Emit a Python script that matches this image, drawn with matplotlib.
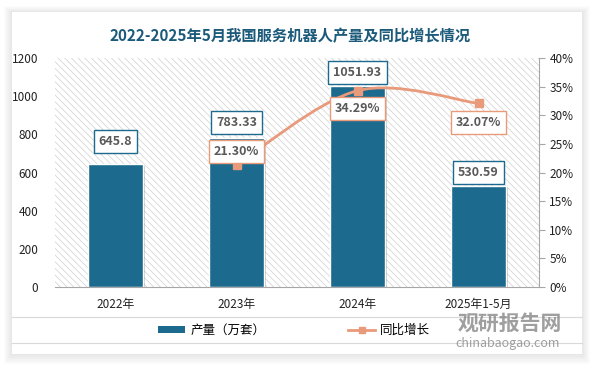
import matplotlib
matplotlib.use("Agg")
import matplotlib.pyplot as plt
from matplotlib.patches import Rectangle, PathPatch, Patch
from matplotlib.path import Path
from matplotlib.lines import Line2D
import matplotlib.patheffects as pe
import numpy as np

plt.rcParams['font.family'] = ['Noto Sans CJK SC', 'DejaVu Sans']
plt.rcParams['hatch.linewidth'] = 0.5
plt.rcParams['hatch.color'] = '#CFCFCF'

categories = ["2022年", "2023年", "2024年", "2025年1-5月"]
output_vals = [645.8, 783.33, 1051.93, 530.59]
growth_idx = [1, 2, 3]
growth_vals = [21.30, 34.29, 32.07]
bar_labels = ["645.8", "783.33", "1051.93", "530.59"]
growth_labels = ["21.30%", "34.29%", "32.07%"]
title = "2022-2025年5月我国服务机器人产量及同比增长情况"

bar_color = "#1C6A8E"
line_color = "#E89A7B"
text_grey = "#595959"

fig = plt.figure(figsize=(5.94, 3.66), dpi=100)
fig.patch.set_facecolor("white")

# soft card shadow + card
L, B, W, H = 12/594, 12/366, 570/594, 342/366
for k in range(1, 9):
    dx = k / 594
    dy = k / 366
    fig.patches.append(Rectangle((L - dx, B - dy * 1.3), W + 2 * dx, H + 2 * dy,
                                 transform=fig.transFigure, facecolor="black", alpha=0.010,
                                 edgecolor="none", zorder=0))
fig.patches.append(Rectangle((L, B), W, H, transform=fig.transFigure,
                             facecolor="white", edgecolor="none", zorder=1))

ax = fig.add_axes([55/594, (366-287)/366, 484/594, 229/366])
ax.set_zorder(2)
ax.patch.set_alpha(0)
x = np.arange(len(categories))
ax.set_xlim(-0.5, len(categories) - 0.5)
ax.set_ylim(0, 1200)

# hatched background
bg = Rectangle((0, 0), 1, 1, transform=ax.transAxes, facecolor="white",
               edgecolor="#CFCFCF", hatch="\\\\\\\\\\", linewidth=0, zorder=0)
ax.add_patch(bg)

bars = ax.bar(x, output_vals, width=0.45, color=bar_color, edgecolor="white",
              linewidth=1.0, zorder=2)
for b in bars:
    b.set_path_effects([pe.SimplePatchShadow(offset=(1.5, -1.5), shadow_rgbFace="black", alpha=0.2),
                        pe.Normal()])

ax.set_yticks(np.arange(0, 1201, 200))
ax.set_xticks(x)
ax.set_xticklabels(categories, fontsize=8.5, color="#222222")
ax.tick_params(axis='y', length=0, labelsize=8.5, labelcolor="#222222", pad=12)
ax.tick_params(axis='x', length=0, pad=8)
for s in ["top", "right", "left"]:
    ax.spines[s].set_visible(False)
ax.spines["bottom"].set_color("#A6A6A6")

ax2 = ax.twinx()
ax2.set_ylim(0, 40)
ax2.set_yticks(np.arange(0, 41, 5))
ax2.set_yticklabels([f"{v}%" for v in range(0, 41, 5)])
ax2.tick_params(axis='y', direction='out', length=4, color="#A6A6A6",
                labelsize=8.5, labelcolor="#222222")
for s in ["top", "left", "bottom"]:
    ax2.spines[s].set_visible(False)
ax2.spines["right"].set_color("#A6A6A6")

# smooth line (Catmull-Rom through data points)
px = np.array(growth_idx, dtype=float)
py = np.array(growth_vals, dtype=float)
P = np.column_stack([px, py])
verts = [tuple(P[0])]
codes = [Path.MOVETO]
n = len(P)
for i in range(n - 1):
    p0 = P[i - 1] if i > 0 else P[i]
    p1 = P[i]
    p2 = P[i + 1]
    p3 = P[i + 2] if i + 2 < n else P[i + 1]
    c1 = p1 + (p2 - p0) / 6
    c2 = p2 - (p3 - p1) / 6
    verts += [tuple(c1), tuple(c2), tuple(p2)]
    codes += [Path.CURVE4] * 3
ax2.add_patch(PathPatch(Path(verts, codes), facecolor="none", edgecolor=line_color,
                        linewidth=2, zorder=3))
ax2.plot(px, py, linestyle="none", marker="s", markersize=6, color=line_color, zorder=4)

# bar value labels
bar_offsets = [16, 11, 10, 9.5]
for xi, v, lab, off in zip(x, output_vals, bar_labels, bar_offsets):
    ax.annotate(lab, (xi, v), xytext=(0, off), textcoords="offset points",
                ha="center", va="center", fontsize=9, fontweight="bold", color=text_grey,
                bbox=dict(boxstyle="square,pad=0.4", facecolor="white", edgecolor=bar_color, linewidth=1),
                zorder=6)

# growth labels
offsets = [10, -13, -14]
for xi, v, lab, off in zip(px, py, growth_labels, offsets):
    ax2.annotate(lab, (xi, v), xytext=(0, off), textcoords="offset points",
                 ha="center", va="center", fontsize=9, fontweight="bold", color=text_grey,
                 bbox=dict(boxstyle="square,pad=0.4", facecolor="white", edgecolor=line_color, linewidth=1),
                 zorder=6)

fig.text(290/594, 1 - 36/366, title, ha="center", va="center", fontsize=11,
         fontweight="bold", color="#1B5A7A")

# legend band lines
fig.add_artist(Line2D([12/594, 582/594], [1 - 317/366] * 2, color="#D9D9D9", lw=0.8))
fig.add_artist(Line2D([12/594, 582/594], [1 - 343/366] * 2, color="#D9D9D9", lw=0.8))

handles = [Patch(facecolor=bar_color, edgecolor="none"),
           Line2D([0], [0], color=line_color, lw=2, marker="s", markersize=5)]
leg = fig.legend(handles, ["产量（万套）", "同比增长"], loc="center",
                 bbox_to_anchor=(294/594, 1 - 330/366), ncol=2, frameon=False,
                 fontsize=9, handlelength=2.2, handleheight=0.5, columnspacing=6.6,
                 handletextpad=0.4)

# watermark
fig.text(510/594, 1 - 323/366, "观研报告网", ha="center", va="center", fontsize=15,
         fontweight="bold", color="#7F7F7F", alpha=0.75)
fig.text(508/594, 1 - 343/366, "chinabaogao.com", ha="center", va="center", fontsize=9,
         color="#7F7F7F", alpha=0.75)

fig.savefig("out.png", dpi=100)
